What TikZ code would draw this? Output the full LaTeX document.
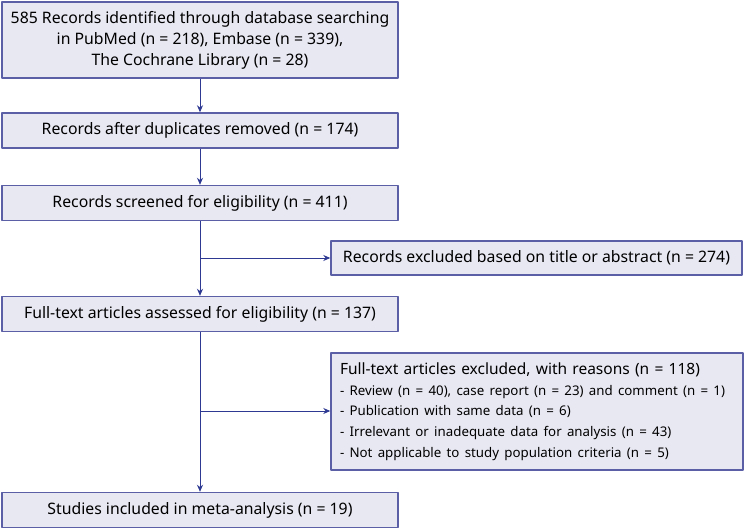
\documentclass[tikz,border=0pt]{standalone}
\usepackage{fontspec}
\setmainfont{Noto Sans}
\usetikzlibrary{arrows.meta}
\definecolor{boxfill}{HTML}{E8E8F3}
\definecolor{boxline}{HTML}{5B5FA6}
\definecolor{arrowblue}{HTML}{2E3A92}
\begin{document}
\begin{tikzpicture}[x=1pt, y=-1pt, font=\fontsize{15.8}{21}\selectfont, line join=round,
	box/.style={draw=boxline, fill=boxfill, line width=1.4pt, inner sep=0pt, align=center},
	flow/.style={draw=arrowblue, line width=0.9pt, -{Stealth[length=7pt,width=6pt]}}]
	\useasboundingbox (0,0) rectangle (745,529);
	\node[box, minimum width=396pt, minimum height=76pt] (ident) at (200,40) {585 Records identified through database searching\\in PubMed (n = 218), Embase (n = 339),\\The Cochrane Library (n = 28)};
	\node[box, minimum width=396pt, minimum height=35pt] (dupl) at (200,130.5) {Records after duplicates removed (n = 174)};
	\node[box, minimum width=396pt, minimum height=35pt] (screen) at (200,203) {Records screened for eligibility (n = 411)};
	\node[box, minimum width=411pt, minimum height=34pt] (exclA) at (536.5,258) {Records excluded based on title or abstract (n = 274)};
	\node[box, minimum width=396pt, minimum height=35pt] (full) at (200,314) {Full-text articles assessed for eligibility (n = 137)};
	\node[box, minimum width=412pt, minimum height=117pt, align=left, text width=394pt] (exclB) at (537,411.5) {{\fontsize{15.5}{21}\selectfont Full-text articles excluded, with reasons (n = 118)}\\
		{\fontsize{13.3}{20.5}\selectfont - Review (n = 40), case report (n = 23) and comment (n = 1)\\
		- Publication with same data (n = 6)\\
		- Irrelevant or inadequate data for analysis (n = 43)\\
		- Not applicable to study population criteria (n = 5)}};
	\node[box, minimum width=396pt, minimum height=35pt] (incl) at (200,510) {Studies included in meta-analysis (n = 19)};
	\path (200,258) coordinate (splitA)
		(200,411) coordinate (splitB);
	\draw[flow] (ident) -- (dupl);
	\draw[flow] (dupl) -- (screen);
	\draw[flow] (screen) -- (full);
	\draw[flow] (splitA) -- (exclA);
	\draw[flow] (full) -- (incl);
	\draw[flow] (splitB) -- (exclB.west |- splitB);
\end{tikzpicture}
\end{document}
